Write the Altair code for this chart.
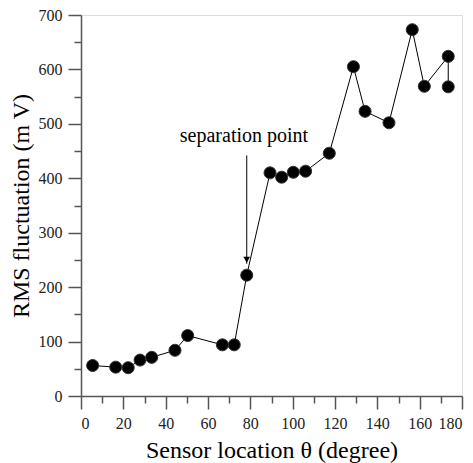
import altair as alt
import pandas as pd

# Data
theta = [5.5, 16.4, 22.3, 27.9, 33.4, 44.4, 50.4, 66.8, 72.4, 78.3,
         89.3, 94.8, 100.3, 106.1, 117.3, 128.7, 134.2, 145.5, 156.5, 162.2,
         173.5, 173.5]
rms = [56, 53, 52, 66, 71, 84, 111, 94, 94, 222,
       410, 402, 411, 413, 446, 605, 523, 502, 673, 569,
       624, 568]

x_major = [0, 20, 40, 60, 80, 100, 120, 140, 160, 180]
x_minor = [10, 30, 50, 70, 90, 110, 130, 150, 170]
y_major = [0, 100, 200, 300, 400, 500, 600, 700]
y_minor = [50, 150, 250, 350, 450, 550, 650]

annot_text = ["separation point"]
annot_x = [77.0]
annot_y = [466]
arrow_x = [78.3]
arrow_y_start = [442]
arrow_y_end = [243]

FONT = "Liberation Serif"
AX = "#555555"

df = pd.DataFrame({"theta": theta, "rms": rms, "order": list(range(len(theta)))})

xs = alt.Scale(domain=[0, 180], nice=False, zero=False)
ys = alt.Scale(domain=[0, 700], nice=False, zero=False)

x_axis = alt.Axis(values=x_major, title="Sensor location θ (degree)", grid=False,
                  tickSize=13, tickColor=AX, domainColor=AX, tickWidth=1.5, domainWidth=1.5,
                  labelFont=FONT, labelFontSize=16, labelColor="#222",
                  labelPadding=6, titleFont=FONT, titleFontSize=24, titleFontWeight="normal",
                  titleColor="black", titlePadding=7, orient="bottom")
y_axis = alt.Axis(values=y_major, title="RMS fluctuation (m V)", grid=False,
                  tickSize=13, tickColor=AX, domainColor=AX, tickWidth=1.5, domainWidth=1.5,
                  labelFont=FONT, labelFontSize=16, labelColor="#222",
                  labelPadding=6, titleFont=FONT, titleFontSize=24, titleFontWeight="normal",
                  titleColor="black", titlePadding=5, orient="left")

x_minor_axis = alt.Axis(values=x_minor, title=None, grid=False, labels=False, domain=False,
                        tickSize=7, tickColor=AX, tickWidth=1.5, orient="bottom")
y_minor_axis = alt.Axis(values=y_minor, title=None, grid=False, labels=False, domain=False,
                        tickSize=7, tickColor=AX, tickWidth=1.5, orient="left")

line = alt.Chart(df).mark_line(color="black", strokeWidth=1).encode(
    x=alt.X("theta:Q", scale=xs, axis=x_axis),
    y=alt.Y("rms:Q", scale=ys, axis=y_axis),
    order="order:Q",
)

pts = alt.Chart(df).mark_point(filled=True, color="black", size=145, opacity=1,
                               stroke="#333", strokeWidth=1).encode(
    x=alt.X("theta:Q", scale=xs, axis=x_minor_axis),
    y=alt.Y("rms:Q", scale=ys, axis=y_minor_axis),
)

ann_df = pd.DataFrame({"x": annot_x, "y": annot_y, "t": annot_text})
text = alt.Chart(ann_df).mark_text(font=FONT, fontSize=20, align="center",
                                   baseline="alphabetic", color="black").encode(
    x=alt.X("x:Q", scale=xs, axis=None),
    y=alt.Y("y:Q", scale=ys, axis=None),
    text="t:N",
)

arr_df = pd.DataFrame({"x": arrow_x, "y": arrow_y_start, "y2": arrow_y_end})
rule = alt.Chart(arr_df).mark_rule(color="black", strokeWidth=1).encode(
    x=alt.X("x:Q", scale=xs, axis=None),
    y=alt.Y("y:Q", scale=ys, axis=None),
    y2="y2:Q",
)
head = alt.Chart(arr_df).mark_point(shape="triangle-down", filled=True, color="black",
                                    size=45, opacity=1, yOffset=-4).encode(
    x=alt.X("x:Q", scale=xs, axis=None),
    y=alt.Y("y2:Q", scale=ys, axis=None),
)

chart = alt.layer(line, pts, rule, head, text).resolve_axis(
    x="independent", y="independent"
).properties(
    width=381, height=381,
    autosize=alt.AutoSizeParams(type="none"),
    padding={"left": 73, "top": 7, "right": 3, "bottom": 67},
).configure_view(stroke=None).configure(background="white")

chart.save("out.html", embed_options={"renderer": "svg", "actions": False})
